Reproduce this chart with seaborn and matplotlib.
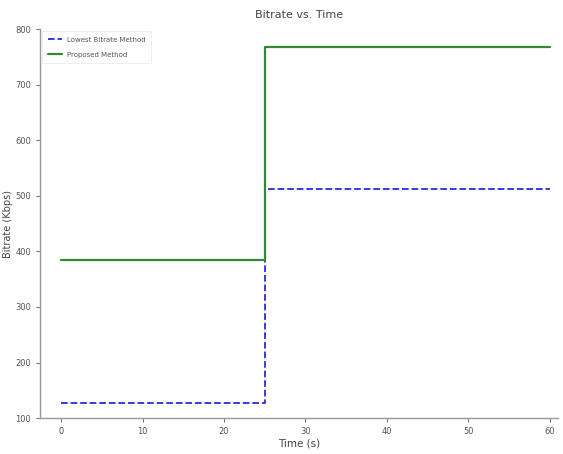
import pandas as pd
import numpy as np
import matplotlib
matplotlib.use('Agg')
import matplotlib.pyplot as plt
import seaborn as sns

# Data (step changes at t=25 s)
time_s = [0, 25, 60]
lowest_bitrate = [128, 512, 512]
proposed = [384, 768, 768]

sns.set_style('white')

fig = plt.figure(figsize=(5.63, 4.54), dpi=100)
ax = fig.add_axes([0.071, 0.079, 0.92, 0.857])

sns.lineplot(x=time_s, y=lowest_bitrate, ax=ax, color='#2a2ae0', linestyle='--',
             linewidth=1.3, drawstyle='steps-post', label='Lowest Bitrate Method')
sns.lineplot(x=time_s, y=proposed, ax=ax, color='#2e8b2e', linestyle='-',
             linewidth=1.6, drawstyle='steps-post', label='Proposed Method')

ax.set_xlim(-2.6, 61)
ax.set_ylim(100, 800)
ax.set_xticks([0, 10, 20, 30, 40, 50, 60])
ax.set_yticks([100, 200, 300, 400, 500, 600, 700, 800])

# Only left and bottom spines, grey
for s in ['top', 'right']:
    ax.spines[s].set_visible(False)
for s in ['left', 'bottom']:
    ax.spines[s].set_color('#999999')
    ax.spines[s].set_linewidth(1.0)

ax.tick_params(axis='both', labelsize=6, colors='#555555', length=3, width=0.6,
               direction='out', left=True, bottom=True)

ax.set_title('Bitrate vs. Time', fontsize=8, color='#444444', pad=8)
ax.set_xlabel('Time (s)', fontsize=7.5, color='#444444', labelpad=2)
ax.set_ylabel('Bitrate (Kbps)', fontsize=7, color='#444444')
ax.yaxis.set_label_coords(-0.052, 0.5)

leg = ax.legend(loc='upper left', fontsize=5, frameon=True, fancybox=False,
                borderaxespad=0.3, handlelength=2.0, labelspacing=1.3,
                borderpad=0.8)
leg.get_frame().set_edgecolor('#e6e6e6')
leg.get_frame().set_linewidth(0.6)
for t in leg.get_texts():
    t.set_color('#555555')

fig.savefig('out.png', dpi=100)
